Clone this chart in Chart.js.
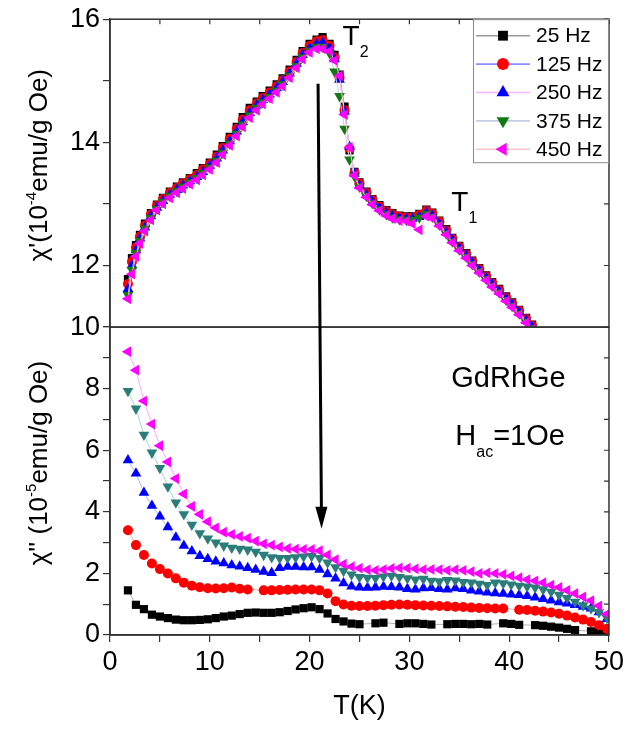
<!DOCTYPE html>
<html lang="en">
<head>
<meta charset="UTF-8">
<title>GdRhGe ac susceptibility</title>
<style>
  html, body { margin: 0; padding: 0; background: #fff; }
  #wrap { width: 628px; height: 731px; }
</style>
<script src="https://cdn.jsdelivr.net/npm/chart.js@4"></script>
</head>
<body>
<div id="wrap"><canvas id="acChart" width="628" height="731"></canvas></div>
<script>
// ---- data: real part chi' (upper panel), 10^-4 emu/g Oe
const tempTop = [1.8, 2.2, 2.6, 3.0, 3.5, 4.1, 4.7, 5.3, 6.0, 6.7, 7.3, 8.0, 8.7, 9.3, 10.0, 10.7, 11.3, 12.0, 12.7, 13.3,
  14.0, 14.7, 15.3, 16.0, 16.7, 17.3, 18.0, 18.7, 19.3, 20.0, 20.7, 21.3, 22.0, 22.5, 23.0, 23.5, 24.0, 24.5, 25.0, 25.7,
  26.3, 27.0, 27.7, 28.3, 29.0, 29.7, 30.3, 31.0, 31.7, 32.3, 33.0, 33.7, 34.3, 35.0, 35.7, 36.3, 37.0, 37.7, 38.3, 39.0,
  39.7, 40.3, 41.0, 41.7, 42.3];
const chi1_25 = [11.78, 12.12, 12.33, 12.5, 12.68, 12.85, 12.99, 13.1, 13.2, 13.28,
  13.35, 13.42, 13.5, 13.58, 13.67, 13.8, 13.94, 14.09, 14.25, 14.41,
  14.56, 14.66, 14.75, 14.84, 14.94, 15.04, 15.18, 15.34, 15.48, 15.6,
  15.67, 15.71, 15.6, 15.42, 15.1, 14.58, 13.87, 13.52, 13.35, 13.2,
  13.08, 12.98, 12.9, 12.85, 12.81, 12.8, 12.8, 12.84, 12.91, 12.86,
  12.73, 12.59, 12.45, 12.32, 12.2, 12.08, 11.96, 11.84, 11.73, 11.62,
  11.5, 11.4, 11.28, 11.15, 11.04];
const chi1_125 = [11.7, 12.06, 12.29, 12.47, 12.65, 12.83, 12.97, 13.08, 13.18, 13.26,
  13.33, 13.4, 13.47, 13.56, 13.65, 13.77, 13.91, 14.06, 14.22, 14.37,
  14.52, 14.63, 14.72, 14.81, 14.91, 15.01, 15.15, 15.31, 15.45, 15.57,
  15.64, 15.66, 15.57, 15.38, 15.05, 14.52, 13.9, 13.5, 13.33, 13.18,
  13.06, 12.96, 12.88, 12.83, 12.79, 12.78, 12.78, 12.82, 12.89, 12.84,
  12.71, 12.57, 12.43, 12.3, 12.18, 12.06, 11.94, 11.82, 11.71, 11.6,
  11.48, 11.38, 11.26, 11.13, 11.02];
const chi1_250 = [11.62, 12.0, 12.25, 12.44, 12.62, 12.8, 12.94, 13.05, 13.15, 13.23,
  13.3, 13.37, 13.44, 13.52, 13.62, 13.74, 13.87, 14.02, 14.18, 14.33,
  14.48, 14.6, 14.69, 14.78, 14.88, 14.98, 15.12, 15.28, 15.42, 15.53,
  15.6, 15.62, 15.53, 15.35, 15.02, 14.5, 13.93, 13.49, 13.3, 13.15,
  13.03, 12.93, 12.85, 12.8, 12.77, 12.76, 12.76, 12.79, 12.86, 12.81,
  12.68, 12.54, 12.41, 12.28, 12.16, 12.04, 11.92, 11.8, 11.69, 11.58,
  11.46, 11.36, 11.24, 11.11, 11.0];
const chi1_375 = [11.52, 11.93, 12.2, 12.4, 12.6, 12.77, 12.92, 13.03, 13.13, 13.21,
  13.28, 13.35, 13.42, 13.5, 13.59, 13.7, 13.83, 13.98, 14.14, 14.29,
  14.44, 14.56, 14.65, 14.74, 14.84, 14.94, 15.08, 15.24, 15.38, 15.49,
  15.55, 15.55, 15.45, 15.15, 14.75, 14.22, 13.72, 13.45, 13.28, 13.13,
  13.01, 12.91, 12.83, 12.78, 12.75, 12.74, 12.74, 12.78, 12.84, 12.79,
  12.66, 12.52, 12.39, 12.26, 12.14, 12.02, 11.9, 11.78, 11.67, 11.56,
  11.44, 11.34, 11.22, 11.09, 10.98];
const chi1_450 = [11.46, 11.86, 12.15, 12.36, 12.56, 12.74, 12.9, 13.0, 13.1, 13.18,
  13.25, 13.32, 13.39, 13.47, 13.56, 13.67, 13.8, 13.95, 14.1, 14.25,
  14.4, 14.52, 14.62, 14.71, 14.81, 14.91, 15.05, 15.21, 15.35, 15.46,
  15.52, 15.52, 15.48, 15.33, 15.08, 14.45, 13.92, 13.46, 13.26, 13.11,
  12.99, 12.89, 12.81, 12.76, 12.73, 12.72, 12.68, 12.58, 12.8, 12.77,
  12.64, 12.5, 12.37, 12.24, 12.12, 12.0, 11.88, 11.76, 11.65, 11.54,
  11.42, 11.32, 11.2, 11.07, 10.96];

// ---- data: imaginary part chi'' (lower panel), 10^-5 emu/g Oe
const tempBot = [1.8, 2.6, 3.4, 4.2, 5.0, 5.8, 6.6, 7.4, 8.2, 9.0, 9.8, 10.6, 11.4, 12.2, 13.0, 13.8, 14.6, 15.4, 16.2, 17.0,
  17.8, 18.6, 19.4, 20.2, 21.0, 21.8, 22.6, 23.4, 24.2, 25.0, 25.8, 26.6, 27.4, 28.2, 29.0, 29.8, 30.6, 31.4, 32.2, 33.0,
  33.8, 34.6, 35.4, 36.2, 37.0, 37.8, 38.6, 39.4, 40.2, 41.0, 41.8, 42.6, 43.4, 44.2, 45.0, 45.8, 46.6, 47.4, 48.2, 49.0,
  49.8];
const chi2_25 = [1.45, 0.98, 0.84, 0.66, 0.6, 0.55, 0.5, 0.48, 0.48, 0.49,
  0.51, 0.55, 0.6, 0.63, 0.68, 0.72, 0.73, 0.72, 0.72, 0.74,
  0.78, 0.83, 0.87, 0.9, 0.84, 0.7, 0.52, 0.44, 0.37, 0.35,
  null, 0.38, 0.4, null, 0.36, 0.38, 0.38, 0.36, 0.34, null,
  0.35, 0.36, 0.36, 0.35, 0.36, 0.34, null, 0.38, 0.36, 0.33,
  null, 0.32, 0.3, 0.27, 0.24, 0.2, 0.16, null, 0.12, 0.1,
  0.08];
const chi2_125 = [3.4, 2.92, 2.6, 2.32, 2.14, 2.0, 1.84, 1.7, 1.6, 1.55,
  1.52, 1.51, 1.52, 1.54, 1.5, 1.48, null, 1.45, 1.45, 1.46,
  1.47, 1.48, 1.48, 1.48, 1.45, 1.35, 1.1, 0.99, 0.95, 0.94,
  0.94, 0.95, 0.97, 0.98, 0.99, 0.98, 0.97, 0.96, 0.95, 0.94,
  0.93, 0.92, 0.91, 0.89, 0.88, 0.87, 0.86, 0.86, null, 0.82,
  0.81, 0.79, 0.76, 0.73, 0.69, 0.63, 0.57, 0.5, 0.42, 0.32,
  0.2];
const chi2_250 = [5.68, 5.25, 4.62, 4.2, 3.85, 3.5, 3.17, 2.9, 2.72, 2.57,
  2.47, 2.39, 2.33, 2.27, 2.23, 2.18, 2.12, 2.06, 2.02, 2.18,
  2.22, 2.22, 2.2, 2.2, 2.12, 1.98, 1.84, 1.68, 1.58, 1.55,
  1.54, 1.55, 1.57, 1.56, 1.55, 1.5, 1.48, 1.52, 1.53, 1.5,
  1.48, 1.52, 1.5, 1.45, 1.42, 1.38, 1.36, 1.34, 1.32, 1.3,
  1.27, 1.22, 1.17, 1.12, 1.07, 1.03, 0.98, 0.92, 0.86, 0.74,
  0.52];
const chi2_375 = [7.92, 7.35, 6.5, 5.92, 5.42, 4.82, 4.3, 3.92, 3.58, 3.3,
  3.13, 3.0, 2.9, 2.83, 2.8, 2.77, 2.7, 2.6, 2.52, 2.5,
  2.5, 2.52, 2.55, 2.56, 2.5, 2.35, 2.2, 2.08, 1.96, 1.88,
  1.86, 1.85, 1.9, 1.92, 1.88, 1.84, 1.8, 1.82, 1.76, 1.74,
  1.78, 1.77, 1.72, 1.7, 1.66, 1.62, 1.7, 1.68, 1.64, 1.6,
  1.57, 1.54, 1.48, 1.4, 1.3, 1.2, 1.08, 0.96, 0.86, 0.74,
  0.55];
const chi2_450 = [9.2, 8.6, 7.6, 6.85, 6.15, 5.62, 5.08, 4.58, 4.18, 3.92,
  3.68, 3.48, 3.34, 3.27, 3.2, 3.15, 3.05, 2.96, 2.92, 2.86,
  2.81, 2.79, 2.78, 2.78, 2.74, 2.6, 2.45, 2.3, 2.22, 2.17,
  2.12, 2.1, 2.12, 2.16, 2.18, 2.17, 2.15, 2.12, 2.13, 2.12,
  2.1, 2.12, 2.1, 2.06, 2.0, 2.02, 2.0, 1.97, 1.92, 1.86,
  1.8, 1.76, 1.7, 1.62, 1.55, 1.45, 1.35, 1.24, 1.12, 0.95,
  0.68];

const freqLabels = ['25 Hz', '125 Hz', '250 Hz', '375 Hz', '450 Hz'];
const xLabelVals = [0, 10, 20, 30, 40, 50];
const topLabelVals = [12, 14, 16];
const botLabelVals = [0, 2, 4, 6, 8, 10];

const FONT = 'Arial, "Liberation Sans", Helvetica, sans-serif';

// marker / line styling per frequency
const styles = [
  { shape: 'rect',     rot: 0,   r: 5.8, fillTop: '#000000', fillBot: '#000000', lineTop: '#9a9a9a', lineBot: '#b5b5b5' },
  { shape: 'circle',   rot: 0,   r: 5.0, fillTop: '#ff0000', fillBot: '#ff0000', lineTop: '#8c8cff', lineBot: '#ffb0b0' },
  { shape: 'triangle', rot: 0,   r: 6.2, fillTop: '#0000ff', fillBot: '#0000ff', lineTop: '#ffb8ff', lineBot: '#a8b8ff' },
  { shape: 'triangle', rot: 180, r: 6.2, fillTop: '#137a13', fillBot: '#2a7d79', lineTop: '#c8cce2', lineBot: '#a8d8d4' },
  { shape: 'triangle', rot: -90, r: 6.2, fillTop: '#ff00ff', fillBot: '#ff00ff', lineTop: '#ffc2c8', lineBot: '#ffaaff' }
];
const topSeries = [chi1_25, chi1_125, chi1_250, chi1_375, chi1_450];
const botSeries = [chi2_25, chi2_125, chi2_250, chi2_375, chi2_450];

const datasets = [];
styles.forEach((s, i) => {
  datasets.push({
    label: freqLabels[i], yAxisID: 'yTop', order: 5 - i,
    data: tempTop.map((t, k) => ({ x: t, y: topSeries[i][k] })),
    borderColor: s.lineTop, borderWidth: 1, spanGaps: true,
    pointStyle: s.shape, pointRotation: s.rot, pointRadius: s.r,
    pointBackgroundColor: s.fillTop, pointBorderColor: s.fillTop, pointBorderWidth: 0
  });
  datasets.push({
    label: freqLabels[i] + ' (chi")', yAxisID: 'yBot', order: 5 - i,
    data: tempBot.map((t, k) => ({ x: t, y: botSeries[i][k] })),
    borderColor: s.lineBot, borderWidth: 1, spanGaps: true,
    pointStyle: s.shape, pointRotation: s.rot, pointRadius: s.r,
    pointBackgroundColor: s.fillBot, pointBorderColor: s.fillBot, pointBorderWidth: 0
  });
});

// small helpers for text with sub/superscripts
function drawRich(ctx, parts, x, y) {
  let cx = x;
  for (const p of parts) {
    ctx.font = p.size + 'px ' + FONT;
    ctx.fillText(p.t, cx, y + (p.dy || 0));
    cx += ctx.measureText(p.t).width;
  }
}
function richWidth(ctx, parts) {
  let w = 0;
  for (const p of parts) { ctx.font = p.size + 'px ' + FONT; w += ctx.measureText(p.t).width; }
  return w;
}
function drawVertical(ctx, parts, x, yCenter) {
  const w = richWidth(ctx, parts);
  ctx.save();
  ctx.translate(x, yCenter);
  ctx.rotate(-Math.PI / 2);
  drawRich(ctx, parts, -w / 2, 0);
  ctx.restore();
}
function marker(ctx, shape, rot, r, x, y) {
  if (Chart.helpers && Chart.helpers.drawPoint) {
    Chart.helpers.drawPoint(ctx, { pointStyle: shape, rotation: rot, radius: r, borderWidth: 0 }, x, y);
    return;
  }
  ctx.beginPath(); ctx.arc(x, y, r, 0, Math.PI * 2); ctx.fill();
}

const decorPlugin = {
  id: 'decor',
  beforeDraw(chart) {
    const c = chart.ctx;
    c.save(); c.fillStyle = '#fff'; c.fillRect(0, 0, chart.width, chart.height); c.restore();
  },
  afterDatasetsDraw(chart) {
    const ctx = chart.ctx;
    const sx = chart.scales.x, yT = chart.scales.yTop, yB = chart.scales.yBot;
    ctx.save();

    // panel frames
    ctx.strokeStyle = '#333'; ctx.lineWidth = 1.5;
    ctx.strokeRect(sx.left, yT.top, sx.right - sx.left, yT.bottom - yT.top);
    ctx.strokeRect(sx.left, yB.top, sx.right - sx.left, yB.bottom - yB.top);

    // inward mirror ticks on top and right
    ctx.lineWidth = 1.2;
    ctx.beginPath();
    for (let v = 0; v <= 50; v += 5) {
      const px = sx.getPixelForValue(v);
      ctx.moveTo(px, yT.top); ctx.lineTo(px, yT.top + 5);
    }
    for (let v = 11; v <= 16; v++) {
      const py = yT.getPixelForValue(v);
      ctx.moveTo(sx.right, py); ctx.lineTo(sx.right - 5, py);
    }
    for (let v = 0; v <= 10; v++) {
      const py = yB.getPixelForValue(v);
      ctx.moveTo(sx.right, py); ctx.lineTo(sx.right - 5, py);
    }
    ctx.stroke();

    // arrow from T2 peak down into chi'' panel
    const ax0 = sx.getPixelForValue(20.85), ay0 = yT.getPixelForValue(14.95);
    const ax1 = sx.getPixelForValue(21.2), ay1 = yB.getPixelForValue(3.45);
    const len = Math.hypot(ax1 - ax0, ay1 - ay0);
    const ux = (ax1 - ax0) / len, uy = (ay1 - ay0) / len;
    const headL = 22, headW = 6;
    ctx.strokeStyle = '#000'; ctx.fillStyle = '#000'; ctx.lineWidth = 3;
    ctx.beginPath();
    ctx.moveTo(ax0, ay0);
    ctx.lineTo(ax1 - ux * (headL - 2), ay1 - uy * (headL - 2));
    ctx.stroke();
    ctx.beginPath();
    ctx.moveTo(ax1, ay1);
    ctx.lineTo(ax1 - ux * headL - uy * headW, ay1 - uy * headL + ux * headW);
    ctx.lineTo(ax1 - ux * headL + uy * headW, ay1 - uy * headL - ux * headW);
    ctx.closePath();
    ctx.fill();

    // annotations
    ctx.fillStyle = '#000';
    ctx.textBaseline = 'alphabetic';
    ctx.textAlign = 'left';
    drawRich(ctx, [{ t: 'T', size: 28 }, { t: '2', size: 16, dy: 12 }],
      sx.getPixelForValue(23.3), yT.getPixelForValue(15.58));
    drawRich(ctx, [{ t: 'T', size: 28 }, { t: '1', size: 16, dy: 12 }],
      sx.getPixelForValue(34.2), yT.getPixelForValue(12.89));
    drawRich(ctx, [{ t: 'GdRhGe', size: 29 }],
      sx.getPixelForValue(34.2), yB.getPixelForValue(8.05));
    drawRich(ctx, [{ t: 'H', size: 29 }, { t: 'ac', size: 16, dy: 12 }, { t: '=1Oe', size: 29 }],
      sx.getPixelForValue(34.6), yB.getPixelForValue(6.17));

    // axis titles
    drawVertical(ctx, [{ t: "\u03C7'(10", size: 26 }, { t: '-4', size: 15, dy: -11 }, { t: 'emu/g Oe)', size: 26 }],
      47, (yT.top + yT.bottom) / 2 - 8);
    drawVertical(ctx, [{ t: "\u03C7'' (10", size: 26 }, { t: '-5', size: 15, dy: -11 }, { t: 'emu/g Oe)', size: 26 }],
      47, (yB.top + yB.bottom) / 2 - 18);

    // legend box
    const lx0 = sx.right - 136, ly0 = yT.top, lw = 136, lh = 144;
    ctx.fillStyle = '#fff';
    ctx.fillRect(lx0, ly0, lw, lh);
    ctx.strokeStyle = '#8a8a8a'; ctx.lineWidth = 1;
    ctx.strokeRect(lx0 + 0.5, ly0 + 0.5, lw - 1, lh - 1);
    ctx.textBaseline = 'middle';
    styles.forEach((s, i) => {
      const ry = ly0 + 16.5 + i * 28.4;
      ctx.strokeStyle = s.lineTop; ctx.lineWidth = 1.6;
      ctx.beginPath(); ctx.moveTo(lx0 + 3, ry); ctx.lineTo(lx0 + 57, ry); ctx.stroke();
      ctx.fillStyle = s.fillTop;
      marker(ctx, s.shape, s.rot, s.r * 1.2, lx0 + 30, ry);
      ctx.fillStyle = '#000';
      ctx.font = '21px ' + FONT;
      ctx.fillText(freqLabels[i], lx0 + 63, ry + 1);
    });

    ctx.restore();
  }
};

const axisGrid = { drawOnChartArea: false, drawTicks: true, tickLength: 7, color: '#333', lineWidth: 1.2 };
const axisBorder = { display: true, color: '#333', width: 1.5 };

Chart.defaults.color = '#000';
Chart.defaults.font.family = FONT;

new Chart(document.getElementById('acChart').getContext('2d'), {
  type: 'line',
  data: { datasets: datasets },
  options: {
    responsive: false,
    animation: false,
    events: [],
    layout: { padding: { top: 19, right: 18, left: 0, bottom: 0 } },
    plugins: { legend: { display: false }, tooltip: { enabled: false } },
    elements: { line: { tension: 0 } },
    scales: {
      x: {
        type: 'linear', min: 0, max: 50,
        grid: axisGrid, border: axisBorder,
        ticks: {
          stepSize: 5, autoSkip: false, maxRotation: 0, padding: 4,
          font: { size: 27 },
          callback: v => xLabelVals.includes(v) ? String(v) : ''
        },
        title: { display: true, text: 'T(K)', font: { size: 27 }, padding: { top: 0, bottom: 8 } },
        afterFit: s => { s.height = 96; }
      },
      yBot: {
        type: 'linear', position: 'left', stack: 'panels', stackWeight: 1, weight: 0,
        min: 0, max: 10,
        grid: axisGrid, border: axisBorder,
        ticks: {
          stepSize: 1, autoSkip: false, padding: 3,
          font: { size: 27 },
          callback: v => botLabelVals.includes(v) ? String(v) : ''
        },
        afterFit: s => { s.width = 110; }
      },
      yTop: {
        type: 'linear', position: 'left', stack: 'panels', stackWeight: 1, weight: 1,
        min: 11, max: 16,
        grid: axisGrid, border: axisBorder,
        ticks: {
          stepSize: 1, autoSkip: false, padding: 3,
          font: { size: 27 },
          callback: v => topLabelVals.includes(v) ? String(v) : ''
        },
        afterFit: s => { s.width = 110; }
      }
    }
  },
  plugins: [decorPlugin]
});
</script>
</body>
</html>
